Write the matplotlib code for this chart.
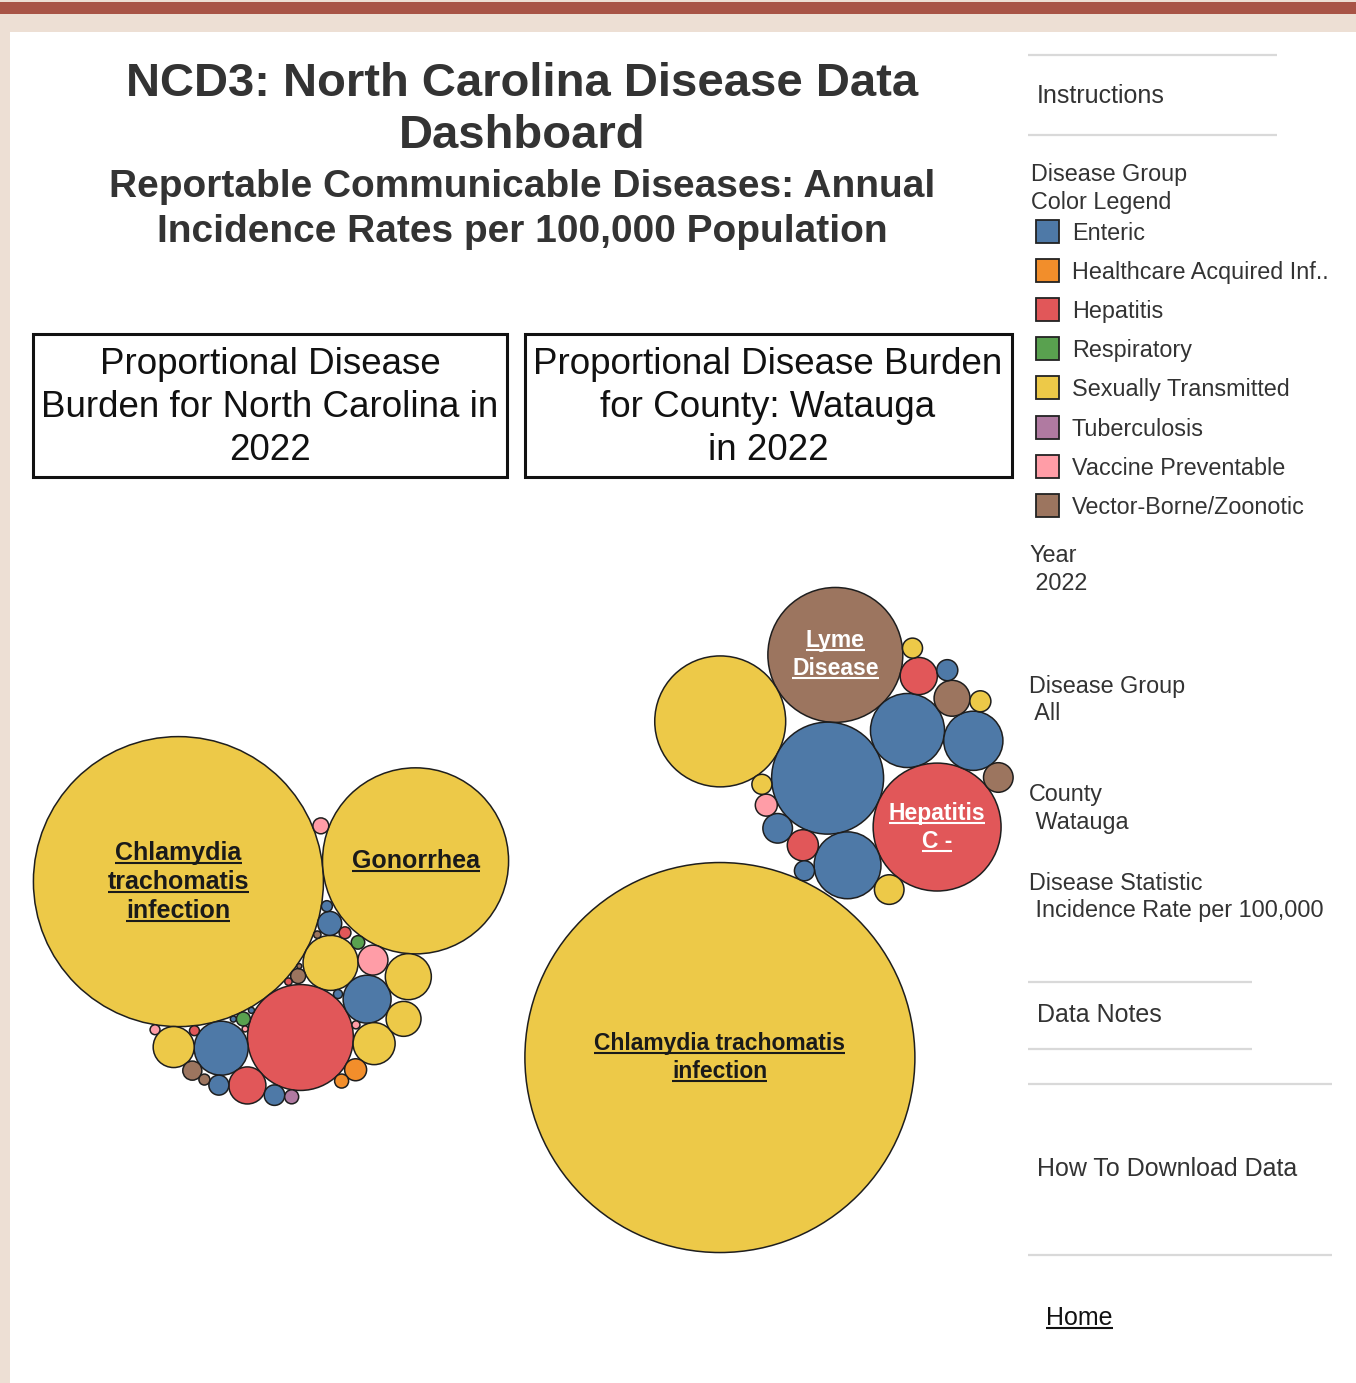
import numpy as np
import matplotlib
matplotlib.use('Agg')
import matplotlib.pyplot as plt
from matplotlib.patches import Circle, Rectangle

plt.rcParams['font.family'] = ['Liberation Sans', 'DejaVu Sans']

W, H = 1356, 1383

# ---------------- data ----------------
group_names = ['Enteric', 'Healthcare Acquired Inf..', 'Hepatitis', 'Respiratory',
               'Sexually Transmitted', 'Tuberculosis', 'Vaccine Preventable',
               'Vector-Borne/Zoonotic']
group_colors = ['#4E79A7', '#F28E2B', '#E15759', '#59A14F',
                '#EDC948', '#B07AA1', '#FF9DA7', '#9C755F']

# North Carolina, 2022 (incidence per 100,000)
nc_disease = ['Chlamydia trachomatis infection', 'Gonorrhea', 'Syphilis - Early Non-Primary',
              'Hepatitis C - Chronic', 'Salmonellosis', 'Campylobacter infection',
              'Syphilis - Late Latent', 'Syphilis - Primary & Secondary', 'Syphilis - Unknown Duration',
              'Hepatitis B - Chronic', 'Nongonococcal urethritis', 'Pertussis', 'STEC',
              'CRE', 'Shigellosis', 'Cryptosporidiosis', 'Spotted fever rickettsiosis',
              'Mumps', 'Lyme disease', 'Legionellosis', 'Tuberculosis', 'Candida auris',
              'Influenza-associated deaths', 'Hepatitis B - Acute', 'Cyclosporiasis',
              'Ehrlichiosis', 'Hepatitis C - Acute', 'Varicella', 'Vibrio infection',
              'Haemophilus influenzae', 'Hepatitis A', 'Malaria', 'Listeriosis',
              'Yersiniosis', 'Meningococcal disease', 'Dengue']
nc_group = ['Sexually Transmitted', 'Sexually Transmitted', 'Sexually Transmitted',
            'Hepatitis', 'Enteric', 'Enteric',
            'Sexually Transmitted', 'Sexually Transmitted', 'Sexually Transmitted',
            'Hepatitis', 'Sexually Transmitted', 'Vaccine Preventable', 'Enteric',
            'Healthcare Acquired Inf..', 'Enteric', 'Enteric', 'Vector-Borne/Zoonotic',
            'Vaccine Preventable', 'Vector-Borne/Zoonotic', 'Respiratory', 'Tuberculosis',
            'Healthcare Acquired Inf..', 'Respiratory', 'Hepatitis', 'Enteric',
            'Vector-Borne/Zoonotic', 'Hepatitis', 'Vaccine Preventable', 'Enteric',
            'Vaccine Preventable', 'Hepatitis', 'Vector-Borne/Zoonotic', 'Enteric',
            'Enteric', 'Vaccine Preventable', 'Vector-Borne/Zoonotic']
nc_rate = [600, 247, 21.6, 80, 20.8, 16.4, 15.1, 12.6, 12.0, 9.8, 8.7, 6.4, 4.1,
           3.45, 3.0, 2.85, 2.6, 1.8, 1.6, 1.4, 1.4, 1.4, 1.3, 1.0, 0.86, 0.86,
           0.7, 0.7, 0.58, 0.46, 0.39, 0.39, 0.26, 0.26, 0.26, 0.18]
nc_label = ['Chlamydia\ntrachomatis\ninfection', 'Gonorrhea'] + [''] * 34

# Watauga County, 2022
wa_disease = ['Chlamydia trachomatis infection', 'Lyme disease', 'Gonorrhea',
              'Campylobacter infection', 'Salmonellosis', 'Hepatitis C - Chronic', 'STEC',
              'Cryptosporidiosis', 'Hepatitis B - Chronic', 'Spotted fever rickettsiosis',
              'Hepatitis C - Acute', 'Shigellosis', 'Ehrlichiosis', 'Syphilis - Early Non-Primary',
              'Pertussis', 'Cyclosporiasis', 'Syphilis - Late Latent',
              'Syphilis - Primary & Secondary', 'Syphilis - Unknown Duration', 'Listeriosis']
wa_group = ['Sexually Transmitted', 'Vector-Borne/Zoonotic', 'Sexually Transmitted',
            'Enteric', 'Enteric', 'Hepatitis', 'Enteric', 'Enteric', 'Hepatitis',
            'Vector-Borne/Zoonotic', 'Hepatitis', 'Enteric', 'Vector-Borne/Zoonotic',
            'Sexually Transmitted', 'Vaccine Preventable', 'Enteric', 'Sexually Transmitted',
            'Sexually Transmitted', 'Sexually Transmitted', 'Enteric']
wa_rate = [330, 39.5, 37.2, 27.2, 11.9, 35.5, 9.7, 7.6, 3.0, 2.8, 2.1, 1.9, 1.9, 1.9,
           1.05, 0.96, 0.96, 0.87, 0.87, 0.87]
wa_label = ['Chlamydia trachomatis\ninfection', 'Lyme\nDisease', '', '', '',
            'Hepatitis\nC -'] + [''] * 14


# ---------------- packed bubble layout ----------------
def pack_clump(radii, angle, bias):
    # greedy packing: each circle goes to the free tangent spot nearest the
    # (area weighted) centre of what is already placed
    xs = [0.0]
    ys = [0.0]
    rs = [radii[0]]
    d = radii[0] + radii[1]
    xs.append(d * np.cos(angle))
    ys.append(d * np.sin(angle))
    rs.append(radii[1])
    for r in radii[2:]:
        X = np.array(xs); Y = np.array(ys); R = np.array(rs)
        w = R ** 2
        gx = (X * w).sum() / w.sum() + bias[0] * radii[0]
        gy = (Y * w).sum() / w.sum() + bias[1] * radii[0]
        cands = []
        n = len(X)
        for i in range(n):
            dx, dy = gx - X[i], gy - Y[i]
            dist = np.hypot(dx, dy)
            ux, uy = (dx / dist, dy / dist) if dist > 0 else (1.0, 0.0)
            cands.append((X[i] + ux * (R[i] + r), Y[i] + uy * (R[i] + r)))
            for j in range(i + 1, n):
                a = R[i] + r
                b = R[j] + r
                dx = X[j] - X[i]
                dy = Y[j] - Y[i]
                D = np.hypot(dx, dy)
                if D == 0 or D > a + b or D < abs(a - b):
                    continue
                l = (a * a - b * b + D * D) / (2 * D)
                h = np.sqrt(max(a * a - l * l, 0))
                px = X[i] + l * dx / D
                py = Y[i] + l * dy / D
                cands.append((px - h * dy / D, py + h * dx / D))
                cands.append((px + h * dy / D, py - h * dx / D))
        C = np.array(cands)
        gap = np.hypot(C[:, 0, None] - X[None, :], C[:, 1, None] - Y[None, :]) - (R[None, :] + r)
        ok = (gap >= -1e-6 * (R[None, :] + r)).all(axis=1)
        C = C[ok]
        k = np.argmin(np.hypot(C[:, 0] - gx, C[:, 1] - gy))
        xs.append(C[k, 0]); ys.append(C[k, 1]); rs.append(r)
    return np.array(xs), np.array(ys), np.array(rs)


def attach(X, Y, R, r, angle):
    # slide the big bubble out from the clump's first bubble along `angle`
    # until it no longer overlaps anything
    gx, gy = X[0], Y[0]
    ux, uy = np.cos(angle), np.sin(angle)
    t_best = 0.0
    for x, y, ri in zip(X, Y, R):
        px, py = x - gx, y - gy
        proj = px * ux + py * uy
        perp2 = px * px + py * py - proj * proj
        s = (ri + r) ** 2 - perp2
        if s > 0:
            t_best = max(t_best, proj + np.sqrt(s))
    return gx + t_best * ux, gy + t_best * uy


def draw_bubbles(ax, rates, groups, labels, px_per_unit, center, angle, bias,
                 attach_angle, fs, line_h):
    radii = np.sqrt(np.array(rates, dtype=float)) * px_per_unit
    if attach_angle is None:
        x, y, r = pack_clump(radii, angle, bias)
    else:
        x, y, r = pack_clump(radii[1:], angle, bias)
        bx, by = attach(x, y, r, radii[0], attach_angle)
        x = np.concatenate([[bx], x])
        y = np.concatenate([[by], y])
        r = np.concatenate([[radii[0]], r])
    # centre the cluster's bounding box in the sheet
    x = x + center[0] - ((x - r).min() + (x + r).max()) / 2
    y = y + center[1] - ((y - r).min() + (y + r).max()) / 2
    texts = []
    for k in range(len(rates)):
        col = group_colors[group_names.index(groups[k])]
        ax.add_patch(Circle((x[k], y[k]), r[k], facecolor=col, edgecolor='#1e1e1e',
                            lw=1.1, zorder=2))
        if labels[k]:
            tc = '#1a1a1a' if groups[k] == 'Sexually Transmitted' else 'white'
            lines = labels[k].split('\n')
            for m, line in enumerate(lines):
                ty = y[k] + (m - (len(lines) - 1) / 2) * line_h
                t = ax.text(x[k], ty, line, ha='center', va='center', fontsize=fs,
                            fontweight='bold', color=tc, zorder=3)
                texts.append((t, tc))
    return texts


fig = plt.figure(figsize=(W / 100, H / 100), dpi=100)
fig.patch.set_facecolor('#EDDFD4')
ax = fig.add_axes([0, 0, 1, 1])
ax.set_xlim(0, W)
ax.set_ylim(H, 0)
ax.axis('off')

# page frame
ax.add_patch(Rectangle((0, 2), W, 12, facecolor='#A85446', edgecolor='none', zorder=0))
ax.add_patch(Rectangle((10, 32), W - 10, H - 32, facecolor='white', edgecolor='none', zorder=0))

ink = '#333333'

# titles
ax.text(522, 84, 'NCD3: North Carolina Disease Data', ha='center', va='center',
        fontsize=34, fontweight='bold', color=ink)
ax.text(522, 136, 'Dashboard', ha='center', va='center', fontsize=34,
        fontweight='bold', color=ink)
ax.text(522, 187, 'Reportable Communicable Diseases: Annual', ha='center', va='center',
        fontsize=28, fontweight='bold', color=ink)
ax.text(522, 232, 'Incidence Rates per 100,000 Population', ha='center', va='center',
        fontsize=28, fontweight='bold', color=ink)

# sheet title boxes
box_specs = [((33, 334, 474, 143), 270,
              ['Proportional Disease', 'Burden for North Carolina in', '2022']),
             ((525, 334, 487, 143), 768,
              ['Proportional Disease Burden', 'for County: Watauga', 'in 2022'])]
for (bx, by, bw, bh), cx, lines in box_specs:
    ax.add_patch(Rectangle((bx, by), bw, bh, facecolor='white', edgecolor='#111111',
                           lw=2.2, zorder=1))
    for m, line in enumerate(lines):
        ax.text(cx, 364 + m * 43.5, line, ha='center', va='center', fontsize=26.5,
                color='#111111', zorder=2)

# bubbles
label_texts = []
label_texts += draw_bubbles(ax, nc_rate, nc_group, nc_label, 145 / np.sqrt(600),
                            (271, 921), np.deg2rad(-5), (0.1, 0.35),
                            None, 18, 29)
label_texts += draw_bubbles(ax, wa_rate, wa_group, wa_label, 195 / np.sqrt(330),
                            (769, 920), np.deg2rad(150), (0.5, 0.3),
                            np.deg2rad(106), 16.5, 28)

# right side panel
sep = '#D9D9D9'
for y0, x0, x1 in [(55, 1028, 1277), (135, 1028, 1277), (982, 1028, 1252),
                   (1049, 1028, 1252), (1084, 1028, 1332), (1255, 1028, 1332)]:
    ax.plot([x0, x1], [y0, y0], color=sep, lw=1.6, solid_capstyle='butt')

ax.text(1037, 96, 'Instructions', va='center', fontsize=18, color=ink)
ax.text(1031, 174, 'Disease Group', va='center', fontsize=16.8, color=ink)
ax.text(1031, 202, 'Color Legend', va='center', fontsize=16.8, color=ink)
for k, (name, col) in enumerate(zip(group_names, group_colors)):
    yy = 231 + k * 39.2
    ax.add_patch(Rectangle((1036, yy - 11.5), 23, 23, facecolor=col, edgecolor='#222222',
                           lw=1.3, zorder=2))
    ax.text(1072, yy + 2, name, va='center', fontsize=16.8, color=ink)

panel_items = [(556, 'Year'), (583, ' 2022'), (687, 'Disease Group'), (714, ' All'),
               (795, 'County'), (822, ' Watauga'), (883, 'Disease Statistic'),
               (910, ' Incidence Rate per 100,000')]
for yy, s in panel_items:
    ax.text(1029, yy, s, va='center', fontsize=16.8, color=ink)

ax.text(1037, 1015, 'Data Notes', va='center', fontsize=18, color=ink)
ax.text(1037, 1169, 'How To Download Data', va='center', fontsize=18, color=ink)
home = ax.text(1046, 1318, 'Home', va='center', fontsize=18, color='#111111')
label_texts.append((home, '#111111'))

# underline the linked labels
fig.canvas.draw()
renderer = fig.canvas.get_renderer()
for t, tc in label_texts:
    bb = t.get_window_extent(renderer)
    uy = H - bb.y0 - 2
    ax.plot([bb.x0, bb.x1], [uy, uy], color=tc, lw=1.5, zorder=3, solid_capstyle='butt')

fig.savefig('out.png', dpi=100, facecolor=fig.get_facecolor())
